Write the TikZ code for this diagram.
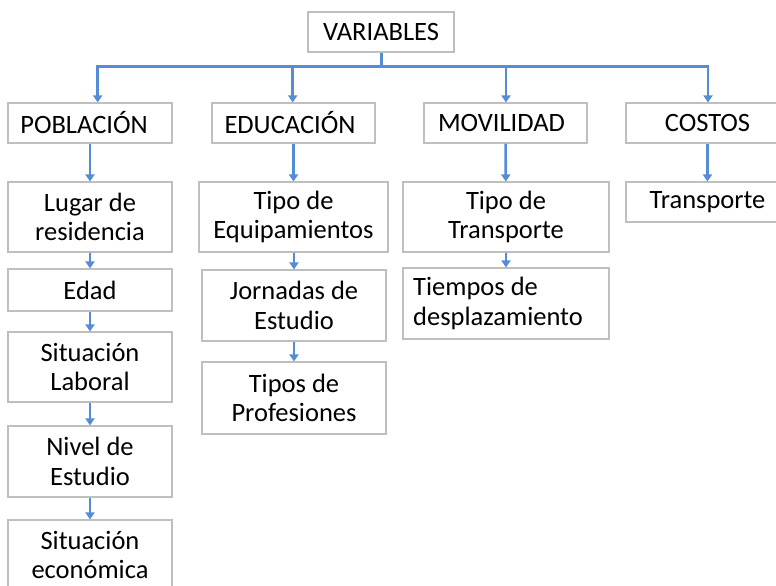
\documentclass[tikz,border=0pt]{standalone}
\usepackage{fontspec}
\setmainfont{Carlito}
\usetikzlibrary{arrows.meta}
\definecolor{conn}{RGB}{84,140,214}
\definecolor{boxline}{RGB}{191,191,191}
\tikzset{
  box/.style={draw=boxline, line width=1.1pt, fill=white, rectangle, inner sep=0pt,
    align=center, font=\fontsize{26.5}{29.5}\selectfont, text=black},
  link/.style={draw=conn, line width=2.6pt, -{Triangle[length=7pt,width=9pt]}},
  bus/.style={draw=conn, line width=2.6pt}
}
\begin{document}
\begin{tikzpicture}[x=1pt,y=-1pt]
\useasboundingbox (0,0) rectangle (776,586);
\clip (0,0) rectangle (776,586);
% level 0
\node[box, minimum width=146pt, minimum height=40pt] (var) at (381,32) {VARIABLES};
% level 1
\node[box, minimum width=164pt, minimum height=40pt] (pob) at (90,123) {POBLACIÓN\hspace*{12pt}};
\node[box, minimum width=163pt, minimum height=40pt] (edu) at (293.5,123) {EDUCACIÓN\hspace*{7pt}};
\node[box, minimum width=163pt, minimum height=40pt] (mov) at (505.5,123) {MOVILIDAD\hspace*{8pt}};
\node[box, minimum width=163pt, minimum height=40pt] (cos) at (707.5,123) {COSTOS};
% poblacion column
\node[box, minimum width=164pt, minimum height=70pt] (lug) at (90,217) {Lugar de\\residencia};
\node[box, minimum width=164pt, minimum height=42pt] (eda) at (90,290) {Edad};
\node[box, minimum width=164pt, minimum height=70pt] (lab) at (90,367) {Situación\\Laboral};
\node[box, minimum width=164pt, minimum height=71pt] (niv) at (90,461.5) {Nivel de\\Estudio};
\node[box, minimum width=164pt, minimum height=70pt] (eco) at (90,555) {Situación\\económica};
% educacion column
\node[box, minimum width=189pt, minimum height=70pt] (equ) at (293.5,217) {Tipo de\\Equipamientos};
\node[box, minimum width=184pt, minimum height=71pt] (jor) at (294,305.5) {Jornadas de\\Estudio};
\node[box, minimum width=184pt, minimum height=72pt] (pro) at (294,398) {Tipos de\\Profesiones};
% movilidad column
\node[box, minimum width=206pt, minimum height=71pt, align=left] (tie) at (506,303.5) {Tiempos de\\desplazamiento\hspace*{16pt}};
\node[box, minimum width=206pt, minimum height=70pt] (ttr) at (506,217) {Tipo de\\Transporte};
% costos column
\node[box, minimum width=163pt, minimum height=40pt] (tra) at (707.5,202) {Transporte};
% bus
\coordinate (j0) at (381.7,66.7);
\coordinate (b1) at (97.7,66.7);
\coordinate (b2) at (292.7,66.7);
\coordinate (b3) at (506,66.7);
\coordinate (b4) at (708,66.7);
\draw[bus] (var.south -| j0) -- (j0);
\draw[bus, line cap=rect] (b1) -- (b4);
\draw[link] (b1) -- (b1 |- pob.north);
\draw[link] (b2) -- (b2 |- edu.north);
\draw[link] (b3) -- (b3 |- mov.north);
\draw[link] (b4) -- (b4 |- cos.north);
% column links
\draw[link] (pob) -- (lug);
\draw[link] (lug) -- (eda);
\draw[link] (eda) -- (lab);
\draw[link] (lab) -- (niv);
\draw[link] (niv) -- (eco);
\draw[link] (edu.south) -- (edu.south |- equ.north);
\draw[link] (equ.south -| jor) -- (jor);
\draw[link] (jor) -- (pro);
\draw[link] (mov) -- (ttr);
\draw[link] (ttr) -- (tie);
\draw[link] (cos) -- (tra);
\end{tikzpicture}
\end{document}
